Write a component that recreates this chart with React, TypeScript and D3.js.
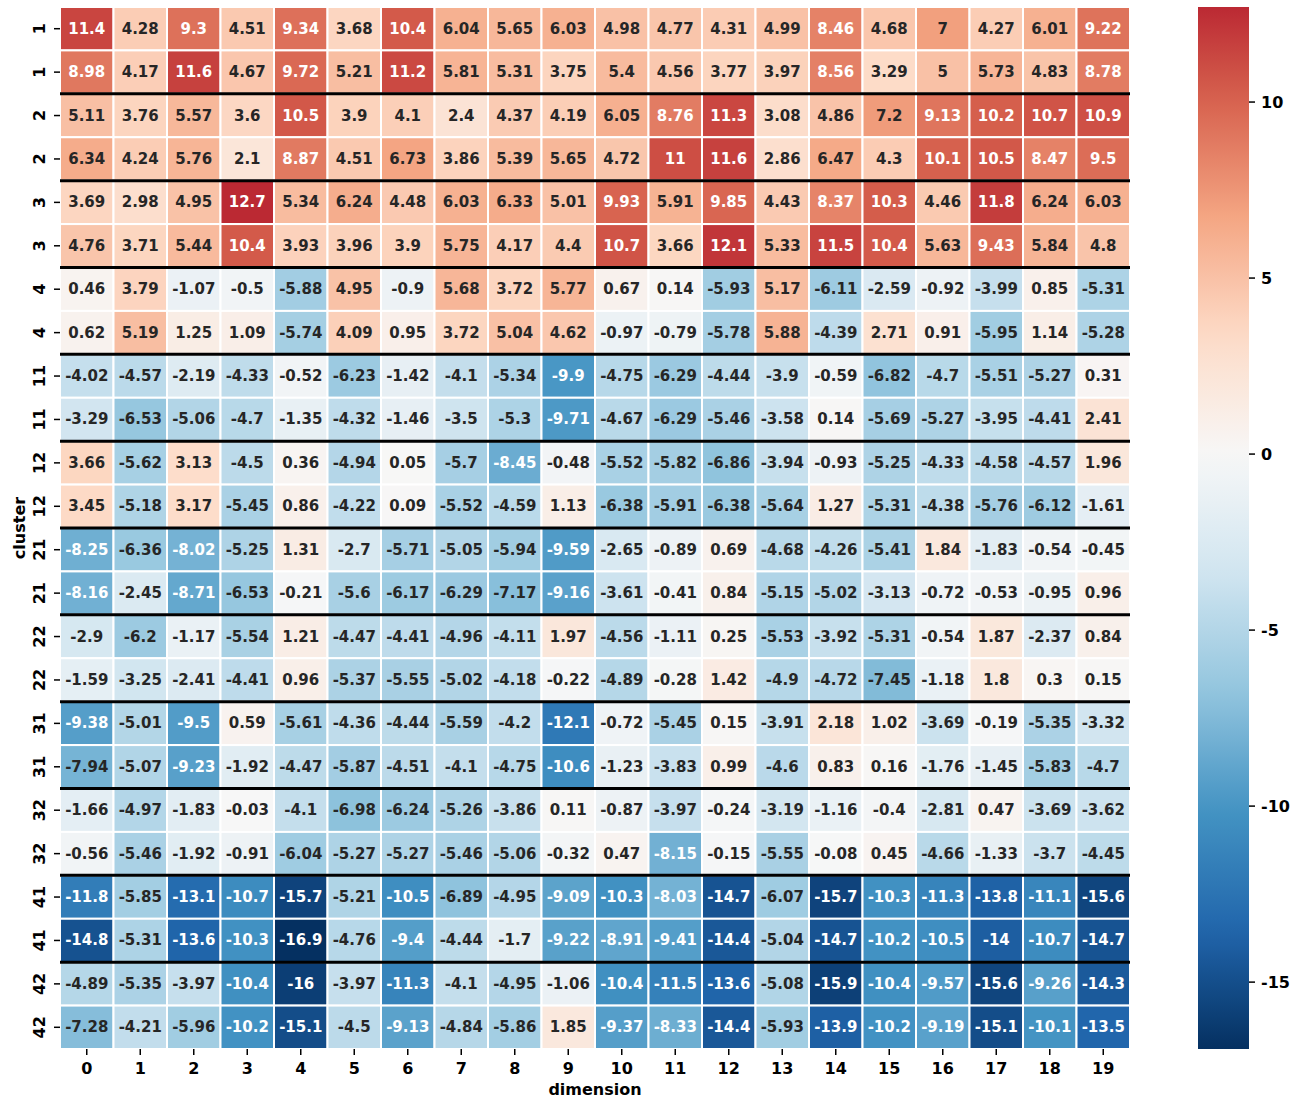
import * as d3 from 'd3'

// row labels (cluster ids, two runs each)
const clusters = ['1', '1', '2', '2', '3', '3', '4', '4', '11', '11', '12', '12',
  '21', '21', '22', '22', '31', '31', '32', '32', '41', '41', '42', '42']

const dimensions = ['0', '1', '2', '3', '4', '5', '6', '7', '8', '9',
  '10', '11', '12', '13', '14', '15', '16', '17', '18', '19']

const cellValues = [
  [11.4, 4.28, 9.3, 4.51, 9.34, 3.68, 10.4, 6.04, 5.65, 6.03, 4.98, 4.77, 4.31, 4.99, 8.46, 4.68, 7, 4.27, 6.01, 9.22],
  [8.98, 4.17, 11.6, 4.67, 9.72, 5.21, 11.2, 5.81, 5.31, 3.75, 5.4, 4.56, 3.77, 3.97, 8.56, 3.29, 5, 5.73, 4.83, 8.78],
  [5.11, 3.76, 5.57, 3.6, 10.5, 3.9, 4.1, 2.4, 4.37, 4.19, 6.05, 8.76, 11.3, 3.08, 4.86, 7.2, 9.13, 10.2, 10.7, 10.9],
  [6.34, 4.24, 5.76, 2.1, 8.87, 4.51, 6.73, 3.86, 5.39, 5.65, 4.72, 11, 11.6, 2.86, 6.47, 4.3, 10.1, 10.5, 8.47, 9.5],
  [3.69, 2.98, 4.95, 12.7, 5.34, 6.24, 4.48, 6.03, 6.33, 5.01, 9.93, 5.91, 9.85, 4.43, 8.37, 10.3, 4.46, 11.8, 6.24, 6.03],
  [4.76, 3.71, 5.44, 10.4, 3.93, 3.96, 3.9, 5.75, 4.17, 4.4, 10.7, 3.66, 12.1, 5.33, 11.5, 10.4, 5.63, 9.43, 5.84, 4.8],
  [0.46, 3.79, -1.07, -0.5, -5.88, 4.95, -0.9, 5.68, 3.72, 5.77, 0.67, 0.14, -5.93, 5.17, -6.11, -2.59, -0.92, -3.99, 0.85, -5.31],
  [0.62, 5.19, 1.25, 1.09, -5.74, 4.09, 0.95, 3.72, 5.04, 4.62, -0.97, -0.79, -5.78, 5.88, -4.39, 2.71, 0.91, -5.95, 1.14, -5.28],
  [-4.02, -4.57, -2.19, -4.33, -0.52, -6.23, -1.42, -4.1, -5.34, -9.9, -4.75, -6.29, -4.44, -3.9, -0.59, -6.82, -4.7, -5.51, -5.27, 0.31],
  [-3.29, -6.53, -5.06, -4.7, -1.35, -4.32, -1.46, -3.5, -5.3, -9.71, -4.67, -6.29, -5.46, -3.58, 0.14, -5.69, -5.27, -3.95, -4.41, 2.41],
  [3.66, -5.62, 3.13, -4.5, 0.36, -4.94, 0.05, -5.7, -8.45, -0.48, -5.52, -5.82, -6.86, -3.94, -0.93, -5.25, -4.33, -4.58, -4.57, 1.96],
  [3.45, -5.18, 3.17, -5.45, 0.86, -4.22, 0.09, -5.52, -4.59, 1.13, -6.38, -5.91, -6.38, -5.64, 1.27, -5.31, -4.38, -5.76, -6.12, -1.61],
  [-8.25, -6.36, -8.02, -5.25, 1.31, -2.7, -5.71, -5.05, -5.94, -9.59, -2.65, -0.89, 0.69, -4.68, -4.26, -5.41, 1.84, -1.83, -0.54, -0.45],
  [-8.16, -2.45, -8.71, -6.53, -0.21, -5.6, -6.17, -6.29, -7.17, -9.16, -3.61, -0.41, 0.84, -5.15, -5.02, -3.13, -0.72, -0.53, -0.95, 0.96],
  [-2.9, -6.2, -1.17, -5.54, 1.21, -4.47, -4.41, -4.96, -4.11, 1.97, -4.56, -1.11, 0.25, -5.53, -3.92, -5.31, -0.54, 1.87, -2.37, 0.84],
  [-1.59, -3.25, -2.41, -4.41, 0.96, -5.37, -5.55, -5.02, -4.18, -0.22, -4.89, -0.28, 1.42, -4.9, -4.72, -7.45, -1.18, 1.8, 0.3, 0.15],
  [-9.38, -5.01, -9.5, 0.59, -5.61, -4.36, -4.44, -5.59, -4.2, -12.1, -0.72, -5.45, 0.15, -3.91, 2.18, 1.02, -3.69, -0.19, -5.35, -3.32],
  [-7.94, -5.07, -9.23, -1.92, -4.47, -5.87, -4.51, -4.1, -4.75, -10.6, -1.23, -3.83, 0.99, -4.6, 0.83, 0.16, -1.76, -1.45, -5.83, -4.7],
  [-1.66, -4.97, -1.83, -0.03, -4.1, -6.98, -6.24, -5.26, -3.86, 0.11, -0.87, -3.97, -0.24, -3.19, -1.16, -0.4, -2.81, 0.47, -3.69, -3.62],
  [-0.56, -5.46, -1.92, -0.91, -6.04, -5.27, -5.27, -5.46, -5.06, -0.32, 0.47, -8.15, -0.15, -5.55, -0.08, 0.45, -4.66, -1.33, -3.7, -4.45],
  [-11.8, -5.85, -13.1, -10.7, -15.7, -5.21, -10.5, -6.89, -4.95, -9.09, -10.3, -8.03, -14.7, -6.07, -15.7, -10.3, -11.3, -13.8, -11.1, -15.6],
  [-14.8, -5.31, -13.6, -10.3, -16.9, -4.76, -9.4, -4.44, -1.7, -9.22, -8.91, -9.41, -14.4, -5.04, -14.7, -10.2, -10.5, -14, -10.7, -14.7],
  [-4.89, -5.35, -3.97, -10.4, -16, -3.97, -11.3, -4.1, -4.95, -1.06, -10.4, -11.5, -13.6, -5.08, -15.9, -10.4, -9.57, -15.6, -9.26, -14.3],
  [-7.28, -4.21, -5.96, -10.2, -15.1, -4.5, -9.13, -4.84, -5.86, 1.85, -9.37, -8.33, -14.4, -5.93, -13.9, -10.2, -9.19, -15.1, -10.1, -13.5],
]

const colorbarTicks = [-15, -10, -5, 0, 5, 10]

// matplotlib RdBu_r anchor colours
const rdbuR = ['#053061', '#2166ac', '#4393c3', '#92c5de', '#d1e5f0', '#f7f7f7',
  '#fddbc7', '#f4a582', '#d6604d', '#b2182b', '#67001f']

const FONT = '"DejaVu Sans", sans-serif'
const fmt = d3.formatLocale({ decimal: '.', thousands: ',', grouping: [3], currency: ['', ''], minus: '-' }).format('.3~g')

function luminance(c: string) {
  const rgb = d3.rgb(c)
  const lin = (v: number) => {
    const s = v / 255
    return s <= 0.03928 ? s / 12.92 : Math.pow((s + 0.055) / 1.055, 2.4)
  }
  return 0.2126 * lin(rgb.r) + 0.7152 * lin(rgb.g) + 0.0722 * lin(rgb.b)
}

export default function App() {
  const width = 1308
  const height = 1099
  const left = 60, right = 1130, top = 7, bottom = 1049

  const x = d3.scaleBand<number>().domain(d3.range(dimensions.length)).range([left, right])
  const y = d3.scaleBand<number>().domain(d3.range(clusters.length)).range([top, bottom])

  const flat = cellValues.flat()
  const vmin = d3.min(flat) as number
  const vmax = d3.max(flat) as number
  // seaborn center=0: cmap spans the symmetric range, then is cut to [vmin, vmax]
  const vrange = Math.max(Math.abs(vmin), Math.abs(vmax))
  const cmap = d3.scaleLinear<string>()
    .domain(rdbuR.map((_, i) => -vrange + (2 * vrange * i) / (rdbuR.length - 1)))
    .range(rdbuR)
    .interpolate(d3.interpolateRgb)
    .clamp(true)

  const cbX = 1198, cbW = 51
  const cb = d3.scaleLinear().domain([vmin, vmax]).range([bottom, top])
  const gradStops = d3.range(41).map((i) => vmin + ((vmax - vmin) * i) / 40)

  // thick separators between cluster pairs
  const separators = d3.range(2, clusters.length, 2)

  return (
    <svg width={width} height={height} style={{ position: 'absolute', left: 0, top: 0, background: '#fff' }}
      fontFamily={FONT} fontWeight="bold">
      <defs>
        <linearGradient id="cbar" x1="0" y1="1" x2="0" y2="0">
          {gradStops.map((v, i) => (
            <stop key={i} offset={i / 40} stopColor={cmap(v)} />
          ))}
        </linearGradient>
      </defs>

      {cellValues.map((row, i) => row.map((v, j) => {
        const fill = cmap(v)
        return (
          <g key={`${i}-${j}`}>
            <rect x={x(j)} y={y(i)} width={x.bandwidth()} height={y.bandwidth()}
              fill={fill} stroke="#fff" strokeWidth={2} />
            <text x={(x(j) as number) + x.bandwidth() / 2} y={(y(i) as number) + y.bandwidth() / 2}
              textAnchor="middle" dominantBaseline="central" fontSize={15}
              fill={luminance(fill) > 0.408 ? '#262626' : '#fff'}>
              {fmt(v)}
            </text>
          </g>
        )
      }))}

      {separators.map((r) => (
        <line key={r} x1={left} x2={right} y1={y(r)} y2={y(r)} stroke="#000" strokeWidth={3} />
      ))}

      {/* y axis */}
      {clusters.map((c, i) => {
        const cy = (y(i) as number) + y.bandwidth() / 2
        return (
          <g key={i}>
            <line x1={left - 6} x2={left} y1={cy} y2={cy} stroke="#000" strokeWidth={1.5} />
            <text x={45} y={cy} transform={`rotate(-90, 45, ${cy})`} textAnchor="middle" fontSize={16}>
              {c}
            </text>
          </g>
        )
      })}
      <text x={25} y={(top + bottom) / 2} transform={`rotate(-90, 25, ${(top + bottom) / 2})`}
        textAnchor="middle" fontSize={16}>cluster</text>

      {/* x axis */}
      {dimensions.map((d, j) => {
        const cx = (x(j) as number) + x.bandwidth() / 2
        return (
          <g key={j}>
            <line x1={cx} x2={cx} y1={bottom} y2={bottom + 6} stroke="#000" strokeWidth={1.5} />
            <text x={cx} y={bottom + 25} textAnchor="middle" fontSize={16}>{d}</text>
          </g>
        )
      })}
      <text x={(left + right) / 2} y={1095} textAnchor="middle" fontSize={16}>dimension</text>

      {/* colorbar */}
      <rect x={cbX} y={top} width={cbW} height={bottom - top} fill="url(#cbar)" />
      {colorbarTicks.map((t) => (
        <g key={t}>
          <line x1={cbX + cbW} x2={cbX + cbW + 6} y1={cb(t)} y2={cb(t)} stroke="#000" strokeWidth={1.5} />
          <text x={cbX + cbW + 12} y={cb(t)} dominantBaseline="central" fontSize={16}>{t}</text>
        </g>
      ))}
    </svg>
  )
}
